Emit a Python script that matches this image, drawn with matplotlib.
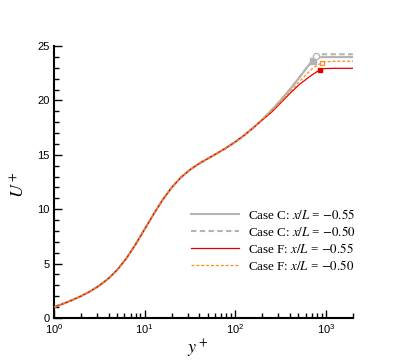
import matplotlib
matplotlib.use("Agg")
import matplotlib.pyplot as plt
from matplotlib.ticker import LogLocator, MultipleLocator, NullFormatter

plt.rcParams['font.family'] = ['Liberation Sans', 'DejaVu Sans']
plt.rcParams['mathtext.fontset'] = 'stix'

# Shared inner-layer profile (all cases coincide)
y_base = [1.0, 1.259, 1.585, 1.995, 2.512, 3.162, 3.981, 5.012, 6.310, 7.943, 10.0,
          12.59, 15.85, 19.95, 25.12, 31.62, 39.81, 50.12, 63.10, 79.43, 100.0,
          125.9, 158.5]
u_base = [1.0, 1.31, 1.645, 2.02, 2.455, 2.975, 3.62, 4.44, 5.49, 6.76, 8.15,
          9.55, 10.865, 12.0, 12.91, 13.62, 14.18, 14.66, 15.13, 15.63, 16.18,
          16.795, 17.485]

# Outer part of each profile
y_cc55 = [199.5, 251.2, 316.2, 398.1, 501.2, 631.0, 724.4, 758.6, 794.3, 891.3, 1000, 2000]
u_cc55 = [18.25, 19.085, 19.99, 20.965, 22.01, 23.115, 23.6, 23.8, 23.92, 23.97, 23.98, 23.98]
y_cc50 = [199.5, 251.2, 316.2, 398.1, 501.2, 631.0, 707.9, 785.2, 831.8, 891.3, 1000, 2000]
u_cc50 = [18.25, 19.085, 19.99, 20.965, 22.01, 23.115, 23.65, 24.1, 24.2, 24.23, 24.24, 24.24]
y_cf55 = [199.5, 251.2, 316.2, 398.1, 501.2, 631.0, 707.9, 794.3, 869.0, 933.3, 1000, 1259, 2000]
u_cf55 = [18.2, 18.9, 19.75, 20.6, 21.4, 22.05, 22.35, 22.62, 22.82, 22.9, 22.93, 22.95, 22.95]
y_cf50 = [199.5, 251.2, 316.2, 398.1, 501.2, 631.0, 707.9, 794.3, 912.0, 1000, 1259, 2000]
u_cf50 = [18.23, 19.0, 19.85, 20.75, 21.65, 22.5, 22.9, 23.2, 23.47, 23.55, 23.6, 23.6]

# Boundary-layer edge markers
edge_y = [724.4, 785.2, 869.0, 912.0]
edge_u = [23.6, 24.1, 22.82, 23.47]

labels = [r"Case C: $x/L$ = $-0.55$", r"Case C: $x/L$ = $-0.50$",
          r"Case F: $x/L$ = $-0.55$", r"Case F: $x/L$ = $-0.50$"]

fig = plt.figure(figsize=(4.04, 3.6), dpi=100)
ax = fig.add_axes([54/404, 1-318/360, (353-54)/404, (318-46)/360])

grey = '#b3b3b3'
red = '#e00000'
orange = '#ff8c1a'

l1, = ax.plot(y_base + y_cc55, u_base + u_cc55, color=grey, lw=1.5, label=labels[0], zorder=2)
l2, = ax.plot(y_base + y_cc50, u_base + u_cc50, color=grey, lw=1.5, ls=(0, (2.6, 1.6)),
              label=labels[1], zorder=2)
l3, = ax.plot(y_base + y_cf55, u_base + u_cf55, color=red, lw=0.9, label=labels[2], zorder=3)
l4, = ax.plot(y_base + y_cf50, u_base + u_cf50, color=orange, lw=0.9, ls=(0, (2.4, 1.5)),
              label=labels[3], zorder=3)

ax.plot(edge_y[0], edge_u[0], marker='s', ms=4, color=grey, mec=grey, zorder=4)
ax.plot(edge_y[1], edge_u[1], marker='o', ms=4.5, mfc='white', mec=grey, mew=0.9, zorder=4)
ax.plot(edge_y[2], edge_u[2], marker='s', ms=3.5, color=red, mec=red, zorder=4)
ax.plot(edge_y[3], edge_u[3], marker='s', ms=3.5, mfc='white', mec=orange, mew=0.9, zorder=4)

ax.set_xscale('log')
ax.set_xlim(1, 2000)
ax.set_ylim(0, 25)
ax.yaxis.set_major_locator(MultipleLocator(5))
ax.yaxis.set_minor_locator(MultipleLocator(1))
ax.xaxis.set_major_locator(LogLocator(base=10, numticks=10))
ax.xaxis.set_minor_locator(LogLocator(base=10, subs=range(2, 10), numticks=20))
ax.xaxis.set_minor_formatter(NullFormatter())

for s in ['top', 'right']:
    ax.spines[s].set_visible(False)
for s in ['left', 'bottom']:
    ax.spines[s].set_linewidth(1.5)

ax.tick_params(which='major', direction='in', length=6, width=1, labelsize=8, pad=3)
ax.tick_params(which='minor', direction='in', length=3.5, width=1)

ax.set_xlabel(r"$y^+$", fontsize=13)
ax.set_ylabel(r"$U^+$", fontsize=13)
ax.xaxis.set_label_coords(0.48, -0.072)
ax.yaxis.set_label_coords(-0.085, 0.49)

leg = ax.legend(handles=[l1, l2, l3, l4], loc='upper left', frameon=False,
                bbox_to_anchor=(191/404, 1-208/360), bbox_transform=fig.transFigure,
                prop={'family': 'Liberation Serif', 'size': 9.4},
                handlelength=3.7, handletextpad=0.7, labelspacing=0.22,
                borderpad=0, borderaxespad=0)

fig.savefig('out.png', dpi=100)
